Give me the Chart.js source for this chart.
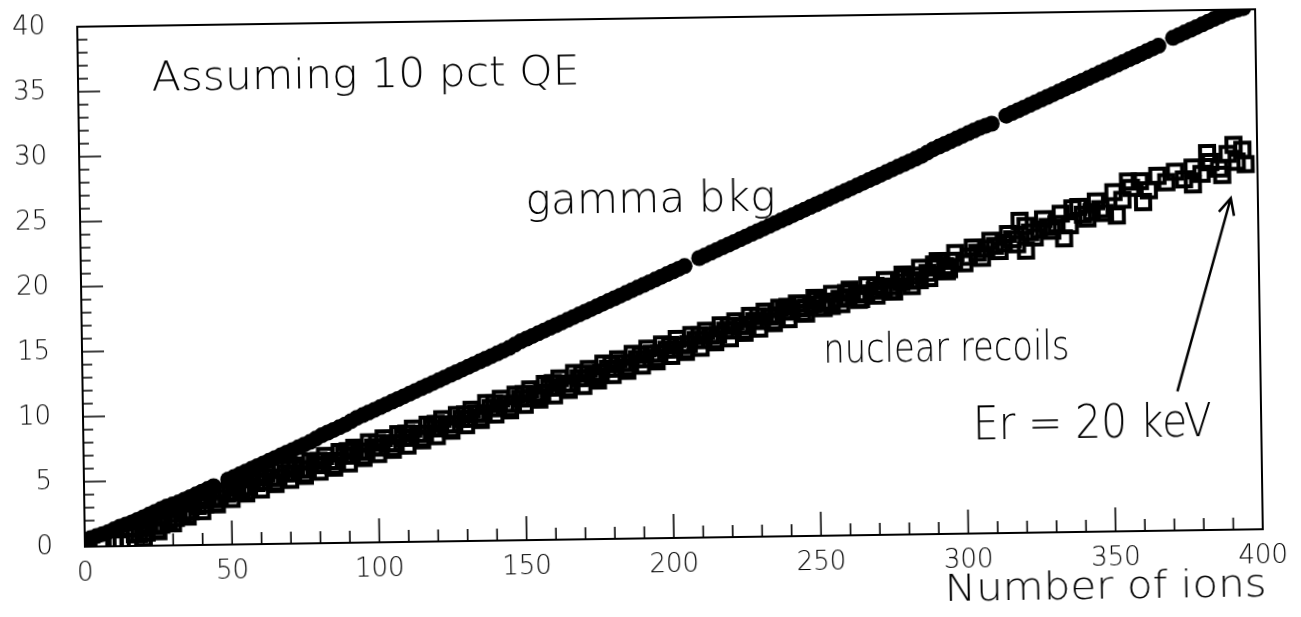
<!DOCTYPE html>
<html>
<head>
<meta charset="utf-8">
<script src="https://cdn.jsdelivr.net/npm/chart.js@4.4.1/dist/chart.umd.min.js"></script>
<style>
  html, body { margin: 0; padding: 0; background: #fff; overflow: hidden; }
  /* the scanned original sits slightly tilted on the page */
  #plot { display: block; transform-origin: 669.5px 277.75px; transform: rotate(-0.85deg); }
</style>
</head>
<body>
<canvas id="plot" width="1301" height="617"></canvas>
<script>
// gamma background band (filled dots)
const gammaX = [0, 2, 4, 6, 8, 10, 12, 14, 16, 18, 20, 22, 24, 26, 28, 30, 32, 34, 36, 38, 40, 42, 44,
  49, 51, 53, 55, 57, 59, 61, 63, 65, 67, 69, 71, 73, 75, 77, 79, 81, 83, 85, 87, 89, 91, 93, 95, 97, 99,
  101, 103, 105, 107, 109, 111, 113, 115, 117, 119, 121, 123, 125, 127, 129, 131, 133, 135, 137, 139, 141, 143,
  145, 147, 149, 151, 153, 155, 157, 159, 161, 163, 165, 167, 169, 171, 173, 175, 177, 179, 181, 183, 185, 187,
  189, 191, 193, 195, 197, 199, 201, 203, 205,
  210, 212, 214, 216, 218, 220, 222, 224, 226, 228, 230, 232, 234, 236, 238, 240, 242, 244, 246, 248, 250, 252,
  254, 256, 258, 260, 262, 264, 266, 268, 270, 272, 274, 276, 278, 280, 282, 284, 286, 288, 290, 292, 294, 296,
  298, 300, 302, 304, 306, 308, 310,
  315, 317, 319, 321, 323, 325, 327, 329, 331, 333, 335, 337, 339, 341, 343, 345, 347, 349, 351, 353, 355, 357,
  359, 361, 363, 365, 367,
  372, 374, 376, 378, 380, 382, 384, 386, 388, 390, 392, 394, 396];
const gammaY = [0.5, 0.65, 0.8, 0.95, 1.1, 1.3, 1.5, 1.65, 1.8, 2.0, 2.2, 2.4, 2.6, 2.8, 3.0, 3.15, 3.3, 3.5, 3.7, 3.9,
  4.1, 4.3, 4.5,
  5.0, 5.2, 5.4, 5.6, 5.8, 6.0, 6.2, 6.4, 6.6, 6.8, 7.0, 7.2, 7.4, 7.6, 7.8, 8.05, 8.3, 8.5, 8.7, 8.9, 9.1, 9.35,
  9.6, 9.8, 10.0, 10.2, 10.4, 10.6, 10.8, 11.0, 11.2, 11.4, 11.6, 11.8, 12.0, 12.2, 12.4, 12.6, 12.8, 13.0, 13.2,
  13.4, 13.6, 13.8, 14.0, 14.2, 14.4, 14.6, 14.8, 15.05, 15.3, 15.5, 15.7, 15.9, 16.1, 16.3, 16.5, 16.7, 16.9,
  17.1, 17.3, 17.5, 17.7, 17.9, 18.1, 18.3, 18.5, 18.7, 18.9, 19.1, 19.3, 19.5, 19.7, 19.9, 20.1, 20.3, 20.5,
  20.7, 20.9,
  21.5, 21.7, 21.9, 22.1, 22.3, 22.5, 22.7, 22.9, 23.1, 23.3, 23.5, 23.7, 23.9, 24.1, 24.3, 24.5, 24.7, 24.9, 25.1,
  25.3, 25.5, 25.7, 25.9, 26.1, 26.3, 26.5, 26.7, 26.9, 27.1, 27.3, 27.5, 27.7, 27.9, 28.1, 28.3, 28.5, 28.7, 28.9,
  29.1, 29.35, 29.6, 29.8, 30.0, 30.2, 30.4, 30.6, 30.8, 31.0, 31.2, 31.35, 31.5,
  32.1, 32.3, 32.5, 32.7, 32.9, 33.1, 33.3, 33.5, 33.7, 33.9, 34.1, 34.3, 34.5, 34.7, 34.9, 35.1, 35.3, 35.5, 35.7,
  35.9, 36.1, 36.3, 36.5, 36.7, 36.9, 37.1, 37.3,
  37.9, 38.1, 38.3, 38.5, 38.7, 38.9, 39.1, 39.3, 39.5, 39.7, 39.85, 40.0, 40.1];

// nuclear recoil band (open squares): upper/lower edge rows, outliers, a middle row, an inner row
const recoilX = [6, 10, 12.5, 15, 17, 20, 22, 25, 27, 30, 32, 35, 37, 40, 42, 45, 47, 50, 52, 55, 57, 60, 62, 65, 67,
  70, 72, 75, 77, 80, 82, 85, 87, 90, 92, 95, 97, 100, 102, 105, 107, 110, 112, 115, 117, 120, 122, 125, 127, 130,
  132, 135, 137, 140, 142, 145, 147, 150, 152, 155, 157, 160, 162, 165, 167, 170, 172, 175, 177, 180, 182, 185, 187,
  190, 192, 195, 197, 200, 202, 205, 207, 210, 212, 215, 217, 220, 222, 225, 227, 230, 232, 235, 237, 240, 243, 246,
  249, 252, 255, 258, 261, 264, 267, 270, 273, 276, 279, 282, 285, 288, 291, 294, 297, 300, 303, 306, 309, 312, 315,
  318, 321, 324, 327, 330, 333, 336, 339, 342, 345, 348, 351, 354, 357, 360, 363, 366, 369, 372, 375, 378, 381, 384,
  387, 390, 393, 395,
  319, 321, 334, 337, 352, 356, 361, 378, 383, 388, 392, 396,
  18.5, 21, 23.5, 26, 28.5, 31, 33.5, 36, 38.5, 41, 43.5, 46, 48.5, 51, 53.5, 56, 58.5, 61, 63.5, 66, 68.5, 71, 73.5,
  76, 78.5, 81, 83.5, 86, 88.5, 91, 93.5, 96, 98.5, 101, 103.5, 106, 108.5, 111, 113.5, 116, 118.5, 121, 123.5, 126,
  128.5, 131, 133.5, 136, 138.5, 141, 143.5, 146, 148.5, 151, 153.5, 156, 158.5, 161, 163.5, 166, 168.5, 171, 173.5,
  176, 178.5, 181, 183.5, 186, 188.5, 191, 193.5, 196, 198.5, 201, 203.5, 206, 208.5, 211, 213.5, 216, 218.5, 221,
  223.5, 226, 228.5, 231, 233.5, 236, 238.5, 241, 243.5, 246, 248.5, 251.5, 254.5, 257.5, 260.5, 263.5, 266.5,
  269.5, 272.5, 275.5, 278.5, 281.5, 284.5, 287.5, 290.5, 293.5, 296.5,
  19.75, 24.75, 29.75, 34.75, 39.75, 44.75, 49.75, 54.75, 59.75, 64.75, 69.75, 74.75, 79.75, 84.75, 89.75, 94.75,
  99.75, 104.75, 109.75, 114.75, 119.75, 124.75, 129.75, 134.75, 139.75, 144.75, 149.75, 154.75, 159.75, 164.75,
  169.75, 174.75, 179.75, 184.75, 189.75, 194.75, 199.75, 204.75, 209.75, 214.75, 219.75, 224.75, 229.75, 234.75,
  239.75, 244.75, 249.75, 254.75, 259.75, 264.75, 269.75, 274.75, 279.75, 284.75, 289.75, 294.75,
  301.5, 304.5, 307.5, 310.5, 313.5, 316.5, 322.5, 325.5, 328.5, 331.5, 340.5, 343.5, 346.5];
const recoilY = [0.3, 0.4, 0.2, 0.3, 0.9, 0.6, 1.6, 1.1, 2.2, 1.7, 2.8, 2.2, 3.2, 2.6, 3.7, 3.1, 4.1, 3.5, 4.7, 3.9,
  5.0, 4.2, 5.4, 4.6, 5.7, 4.9, 6.0, 5.2, 6.3, 5.5, 6.7, 5.8, 7.0, 6.1, 7.3, 6.5, 7.7, 6.8, 8.0, 7.1, 8.3, 7.4, 8.7,
  7.8, 9.0, 8.1, 9.4, 8.5, 9.7, 8.9, 10.1, 9.3, 10.6, 9.7, 10.9, 10.0, 11.2, 10.4, 11.6, 10.8, 12.0, 11.1, 12.4,
  11.5, 12.8, 11.8, 13.1, 12.2, 13.5, 12.6, 13.8, 12.9, 14.2, 13.3, 14.6, 13.6, 14.9, 14.0, 15.3, 14.3, 15.6, 14.6,
  15.9, 15.0, 16.3, 15.3, 16.6, 15.7, 17.0, 16.0, 17.3, 16.4, 17.6, 16.7, 17.9, 17.1, 18.3, 17.5, 18.6, 17.8, 18.9,
  18.1, 19.2, 18.4, 19.6, 18.7, 20.0, 19.1, 20.5, 19.7, 21.0, 20.2, 21.6, 20.8, 22.0, 21.2, 22.5, 21.7, 23.0, 22.2,
  23.6, 22.7, 24.1, 23.2, 24.5, 23.6, 25.0, 24.1, 25.4, 24.5, 26.1, 25.5, 26.4, 26.9, 26.2, 27.3, 26.8, 27.6, 27.0,
  27.9, 27.4, 28.3, 27.8, 28.9, 28.3, 29.2,
  24.0, 21.7, 22.6, 24.9, 24.3, 26.9, 25.3, 26.6, 29.0, 27.3, 29.6, 28.1,
  0.9, 1.0, 1.5, 1.6, 2.0, 2.1, 2.5, 2.6, 3.0, 3.1, 3.5, 3.6, 3.9, 4.0, 4.3, 4.4, 4.7, 4.8, 5.1, 5.1, 5.4, 5.4, 5.7,
  5.7, 6.0, 6.0, 6.3, 6.3, 6.7, 6.7, 7.0, 7.0, 7.3, 7.3, 7.6, 7.6, 8.0, 8.0, 8.3, 8.3, 8.7, 8.7, 9.0, 9.0, 9.4, 9.4,
  9.8, 9.8, 10.2, 10.2, 10.5, 10.5, 10.9, 10.9, 11.2, 11.3, 11.7, 11.7, 12.0, 12.0, 12.4, 12.4, 12.7, 12.8, 13.1,
  13.1, 13.5, 13.5, 13.8, 13.8, 14.2, 14.2, 14.5, 14.5, 14.8, 14.9, 15.2, 15.2, 15.5, 15.6, 15.9, 15.9, 16.2, 16.3,
  16.6, 16.6, 16.9, 17.0, 17.3, 17.3, 17.5, 17.6, 17.8, 17.9, 18.0, 18.2, 18.3, 18.5, 18.6, 18.8, 19.0, 19.1, 19.4,
  19.5, 19.9, 20.1, 20.5, 20.6, 21.0,
  1.35, 1.2, 2.45, 2.25, 3.45, 3.2, 4.35, 4.05, 5.15, 4.75, 5.75, 5.35, 6.35, 5.95, 7.05, 6.65, 7.65, 7.25, 8.35,
  7.95, 9.05, 8.65, 9.75, 9.45, 10.55, 10.15, 11.25, 10.95, 12.05, 11.65, 12.75, 12.45, 13.45, 13.15, 14.15, 13.85,
  14.85, 14.45, 15.55, 15.15, 16.25, 15.85, 16.95, 16.55, 17.65, 17.15, 18.15, 17.65, 18.65, 18.15, 19.15, 18.75,
  19.75, 19.55, 20.75, 20.35,
  21.3, 21.6, 21.9, 22.1, 22.3, 22.6, 23.1, 23.3, 23.5, 23.7, 24.4, 24.6, 24.8];

const xTicks = [0, 50, 100, 150, 200, 250, 300, 350, 400];
const yTicks = [0, 5, 10, 15, 20, 25, 30, 35, 40];

const toPoints = (xs, ys) => xs.map((x, i) => ({x: x, y: ys[i]}));

const FONT = '"DejaVu Sans", sans-serif';

// frame, inward ticks, arrow and the text labels drawn on top
const decorations = {
    id: 'decorations',
    afterDraw(chart) {
        const ctx = chart.ctx;
        const a = chart.chartArea;
        const xs = chart.scales.x, ys = chart.scales.y;
        ctx.save();
        ctx.strokeStyle = '#000';
        ctx.lineWidth = 2;
        ctx.strokeRect(a.left, a.top, a.right - a.left, a.bottom - a.top);

        ctx.lineWidth = 1.6;
        ctx.beginPath();
        for (let v = 1; v < 40; v++) {
            const py = ys.getPixelForValue(v);
            const len = v % 5 === 0 ? 22 : 10;
            ctx.moveTo(a.left, py);
            ctx.lineTo(a.left + len, py);
        }
        for (let v = 10; v < 400; v += 10) {
            const px = xs.getPixelForValue(v);
            const len = v % 50 === 0 ? 24 : 12;
            ctx.moveTo(px, a.bottom);
            ctx.lineTo(px, a.bottom - len);
        }
        ctx.stroke();

        // arrow pointing to the 20 keV end
        const x0 = xs.getPixelForValue(371.7), y0 = ys.getPixelForValue(10.7);
        const x1 = xs.getPixelForValue(390.8), y1 = ys.getPixelForValue(25.5);
        const ang = Math.atan2(y1 - y0, x1 - x0);
        ctx.lineWidth = 2.5;
        ctx.beginPath();
        ctx.moveTo(x0, y0);
        ctx.lineTo(x1, y1);
        ctx.moveTo(x1 - 18 * Math.cos(ang - 0.45), y1 - 18 * Math.sin(ang - 0.45));
        ctx.lineTo(x1, y1);
        ctx.lineTo(x1 - 18 * Math.cos(ang + 0.45), y1 - 18 * Math.sin(ang + 0.45));
        ctx.stroke();

        const label = (text, px, py, size, width, align) => {
            ctx.font = '200 ' + size + 'px ' + FONT;
            const w = ctx.measureText(text).width;
            ctx.save();
            ctx.translate(align === 'right' ? px - width : px, py);
            ctx.scale(width / w, 1);
            ctx.fillStyle = '#000';
            ctx.textBaseline = 'alphabetic';
            ctx.textAlign = 'left';
            ctx.fillText(text, 0, 0);
            ctx.restore();
        };
        label('Assuming 10 pct QE', xs.getPixelForValue(25), ys.getPixelForValue(35.0), 40, 428);
        label('gamma bkg', xs.getPixelForValue(151.3), ys.getPixelForValue(25.1), 42, 250);
        label('nuclear recoils', xs.getPixelForValue(251.7), ys.getPixelForValue(13.3), 40, 246);
        label('Er = 20 keV', xs.getPixelForValue(302.1), ys.getPixelForValue(7.25), 46, 239);
        label('Number of ions', a.right + 3, a.bottom + 67, 37, 322, 'right');
        ctx.restore();
    }
};

new Chart(document.getElementById('plot'), {
    type: 'scatter',
    data: {
        datasets: [
            {
                label: 'gamma bkg',
                data: toPoints(gammaX, gammaY),
                pointStyle: 'circle',
                pointRadius: 8,
                backgroundColor: '#000',
                borderColor: '#000',
                borderWidth: 0
            },
            {
                label: 'nuclear recoils',
                data: toPoints(recoilX, recoilY),
                pointStyle: 'rect',
                pointRadius: 10,
                backgroundColor: 'rgba(0,0,0,0)',
                borderColor: '#000',
                borderWidth: 4
            }
        ]
    },
    options: {
        responsive: false,
        animation: false,
        devicePixelRatio: 1,
        layout: { padding: { top: 18, right: 42, left: 0, bottom: 0 } },
        plugins: {
            legend: { display: false },
            tooltip: { enabled: false }
        },
        scales: {
            x: {
                type: 'linear',
                min: 0,
                max: 400,
                afterFit: s => { s.height = 79; s.paddingLeft = 0; s.paddingRight = 0; },
                afterBuildTicks: s => { s.ticks = xTicks.map(v => ({value: v})); },
                grid: { display: false, drawTicks: false },
                border: { display: false },
                ticks: {
                    color: '#000',
                    padding: 12,
                    maxRotation: 0,
                    font: { family: FONT, size: 26, weight: 200 }
                }
            },
            y: {
                type: 'linear',
                min: 0,
                max: 40,
                afterFit: s => { s.width = 81; s.paddingTop = 0; s.paddingBottom = 0; },
                afterBuildTicks: s => { s.ticks = yTicks.map(v => ({value: v})); },
                grid: { display: false, drawTicks: false },
                border: { display: false },
                ticks: {
                    color: '#000',
                    padding: 32,
                    font: { family: FONT, size: 26, weight: 200 }
                }
            }
        }
    },
    plugins: [decorations]
});
</script>
</body>
</html>
